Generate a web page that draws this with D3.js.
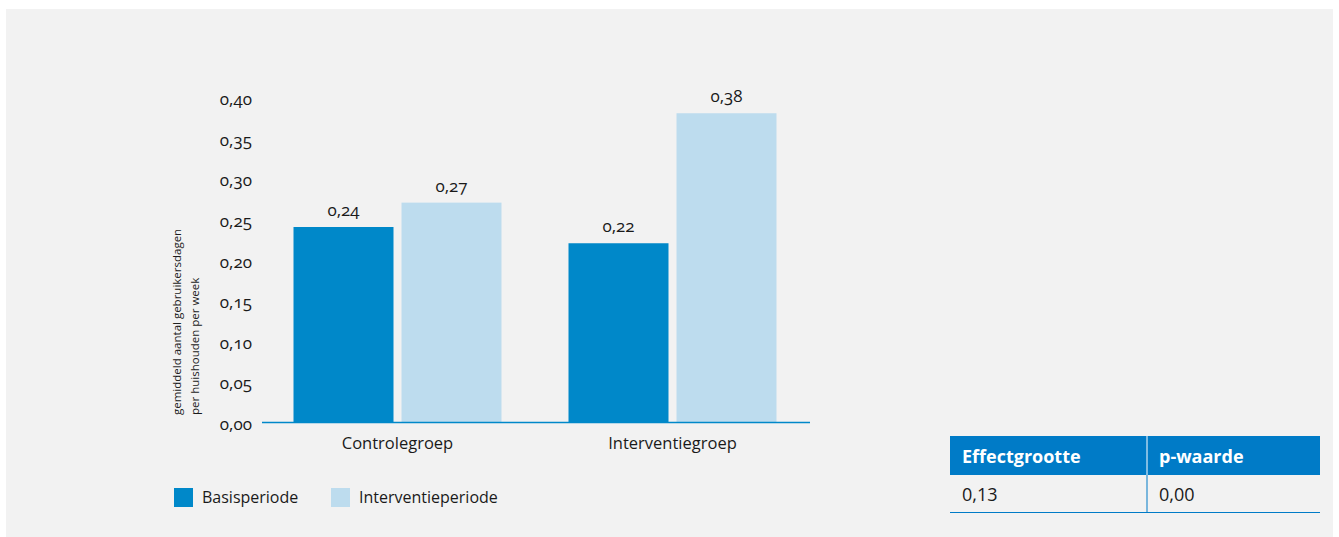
<!DOCTYPE html>
<html>
<head>
<meta charset="utf-8">
<script src="https://cdn.jsdelivr.net/npm/d3@7"></script>
<style>
  body { margin: 0; background: #fff; }
  svg { display: block; font-family: "Open Sans", "Noto Sans", sans-serif; }
  .num { font-variant-numeric: oldstyle-nums; font-feature-settings: "onum"; }
</style>
</head>
<body>
<svg id="chart" width="1339" height="537"></svg>
<script>
// data
var groups = ["Controlegroep", "Interventiegroep"];
var periods = ["Basisperiode", "Interventieperiode"];
var basis = [0.24, 0.22];
var interventie = [0.27, 0.38];
var yTicks = [0, 0.05, 0.10, 0.15, 0.20, 0.25, 0.30, 0.35, 0.40];
var tableHead = ["Effectgrootte", "p-waarde"];
var tableRow = ["0,13", "0,00"];

var colors = ["#0088c9", "#bddcee"];
var fmt = function(v) { return d3.format(".2f")(v).replace(".", ","); };

var svg = d3.select("#chart");

// gray panel
svg.append("rect")
    .attr("x", 6).attr("y", 9)
    .attr("width", 1327).attr("height", 528)
    .attr("fill", "#f2f2f2");

var x = d3.scaleBand().domain(groups).range([260, 810]);
var y = d3.scaleLinear().domain([0, 0.40]).range([422, 97]);
var sub = d3.scaleBand().domain(periods).range([0, 208]).paddingInner(8 / 108);

var g = svg.append("g");

// y tick labels
g.selectAll(".ytick")
    .data(yTicks)
    .enter().append("text")
    .attr("class", "num")
    .attr("x", 252)
    .attr("y", function(d) { return y(d) + 8; })
    .attr("text-anchor", "end")
    .attr("font-size", 17)
    .attr("fill", "#1a1a1a")
    .text(fmt);

// y title
var yt = g.append("text")
    .attr("transform", "translate(181,415) rotate(-90)")
    .attr("font-size", 11.5)
    .attr("fill", "#1a1a1a");
yt.append("tspan").attr("x", 0).attr("dy", 0).text("gemiddeld aantal gebruikersdagen");
yt.append("tspan").attr("x", 0).attr("dy", 17.5).text("per huishouden per week");

// bars
var rows = [];
groups.forEach(function(grp, i) {
    rows.push({ group: grp, period: periods[0], value: basis[i], c: 0 });
    rows.push({ group: grp, period: periods[1], value: interventie[i], c: 1 });
});

var off = (x.bandwidth() - 208) / 2;

g.selectAll(".bar")
    .data(rows)
    .enter().append("rect")
    .attr("x", function(d) { return x(d.group) + off + sub(d.period); })
    .attr("y", function(d) { return y(d.value); })
    .attr("width", sub.bandwidth())
    .attr("height", function(d) { return y(0) - y(d.value); })
    .attr("fill", function(d) { return colors[d.c]; });

g.selectAll(".val")
    .data(rows)
    .enter().append("text")
    .attr("class", "num")
    .attr("x", function(d) { return x(d.group) + off + sub(d.period) + sub.bandwidth() / 2; })
    .attr("y", function(d) { return y(d.value) - 11; })
    .attr("text-anchor", "middle")
    .attr("font-size", 17)
    .attr("fill", "#1a1a1a")
    .text(function(d) { return fmt(d.value); });

// x axis line
g.append("line")
    .attr("x1", x.range()[0] + 2).attr("x2", x.range()[1])
    .attr("y1", y(0) + 0.5).attr("y2", y(0) + 0.5)
    .attr("stroke", "#0088c9").attr("stroke-width", 1.5);

g.selectAll(".xlab")
    .data(groups)
    .enter().append("text")
    .attr("x", function(d) { return x(d) + x.bandwidth() / 2; })
    .attr("y", 449)
    .attr("text-anchor", "middle")
    .attr("font-size", 16.5)
    .attr("fill", "#1a1a1a")
    .text(function(d) { return d; });

// legend
var leg = g.selectAll(".leg")
    .data(periods)
    .enter().append("g")
    .attr("transform", function(d, i) { return "translate(" + [174, 331][i] + ",488)"; });
leg.append("rect")
    .attr("width", 19).attr("height", 19)
    .attr("fill", function(d, i) { return colors[i]; });
leg.append("text")
    .attr("x", 28).attr("y", 15)
    .attr("font-size", 16)
    .attr("fill", "#1a1a1a")
    .text(function(d) { return d; });

// table
var cols = [950, 1147, 1320];
var tb = svg.append("g");
tb.append("rect")
    .attr("x", cols[0]).attr("y", 436)
    .attr("width", cols[2] - cols[0]).attr("height", 39)
    .attr("fill", "#007bc7");
tb.append("line")
    .attr("x1", cols[1]).attr("x2", cols[1]).attr("y1", 436).attr("y2", 475)
    .attr("stroke", "#fff").attr("stroke-width", 1);
tb.append("line")
    .attr("x1", cols[1]).attr("x2", cols[1]).attr("y1", 475).attr("y2", 512)
    .attr("stroke", "#007bc7").attr("stroke-width", 1);
tb.append("line")
    .attr("x1", cols[0]).attr("x2", cols[2]).attr("y1", 512.5).attr("y2", 512.5)
    .attr("stroke", "#007bc7").attr("stroke-width", 1);
tb.selectAll(".th")
    .data(tableHead)
    .enter().append("text")
    .attr("x", function(d, i) { return cols[i] + 12; })
    .attr("y", 463)
    .attr("font-size", 18)
    .attr("font-weight", "bold")
    .attr("fill", "#fff")
    .text(function(d) { return d; });
tb.selectAll(".td")
    .data(tableRow)
    .enter().append("text")
    .attr("x", function(d, i) { return cols[i] + 12; })
    .attr("y", 501)
    .attr("font-size", 18)
    .attr("fill", "#1a1a1a")
    .text(function(d) { return d; });
</script>
</body>
</html>
